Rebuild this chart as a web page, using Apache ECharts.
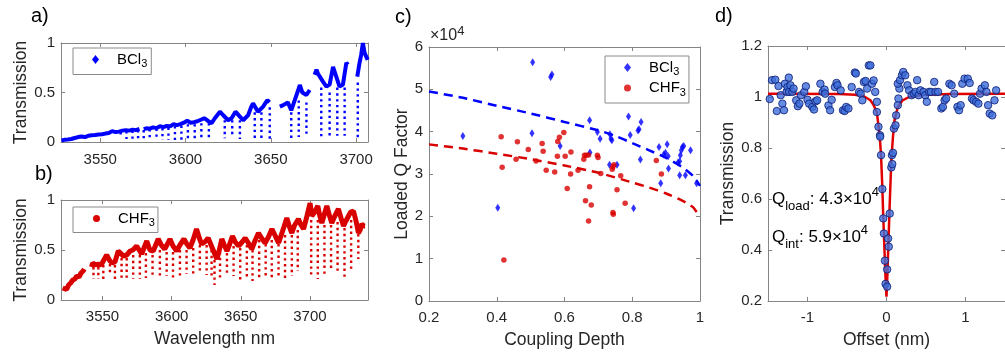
<!DOCTYPE html>
<html><head><meta charset="utf-8">
<script src="https://cdn.jsdelivr.net/npm/echarts@6/dist/echarts.min.js"></script>
<style>html,body{margin:0;padding:0;background:#fff}#c{width:1005px;height:356px}</style>
</head><body><div id="c"></div>
<script>
// ---------- DATA ----------
// a) BCl3 transmission band (wavelength nm, T); null = gap
const aBand = [[3527.3,0.015],[3529,0.022],[3531,0.025],[3533,0.03],[3535,0.04],[3537,0.05],[3539,0.055],[3541,0.05],[3543,0.063],[3545,0.068],[3547,0.07],[3549,0.075],[3551,0.078],[3553,0.085],[3555,0.09],[3557,0.11],[3559,0.1],[3561,0.105],[3563,0.115],[3565,0.12],[3567,0.115],[3569,0.125],[3571,0.12],[3573,0.132],[3574,null],[3575.5,0.13],[3577,0.138],[3579,0.135],[3581,0.148],[3583,0.14],[3585,0.16],[3587,0.15],[3589,0.162],[3591,0.158],[3593,0.18],[3595,0.17],[3597,0.18],[3599,0.195],[3601,0.215],[3603,0.195],[3605,0.2],[3607,0.21],[3609,0.225],[3611,0.24],[3613,0.215],[3615.3,0.19],[3617.2,0.24],[3620.2,0.306],[3622.1,0.27],[3625,0.22],[3627,0.24],[3629.3,0.306],[3631.9,0.256],[3633.8,0.22],[3636.7,0.27],[3638.6,0.357],[3639.6,0.39],[3642.5,0.306],[3645.5,0.357],[3648,0.424],[3649.2,0.40],[3651,null],[3655.3,0.357],[3657,0.37],[3660,0.40],[3662,0.32],[3664,0.42],[3666,0.52],[3667,0.576],[3668.5,0.5],[3670.9,0.475],[3672.8,0.525],[3674,null],[3675.7,0.68],[3676.8,0.73],[3677.7,0.69],[3680.6,0.61],[3682.6,0.56],[3684.5,0.58],[3686.5,0.76],[3688.4,0.66],[3690.3,0.56],[3692.3,0.58],[3694.3,0.8],[3695.2,0.78],[3698,null],[3700.7,0.66],[3702,0.795],[3703,0.88],[3704,1.0],[3705,0.9],[3706,0.92],[3706.8,0.83]];
// a) resonance dips: [wavelength, top, bottom]
const aDips = [[3562,0.10,0.04],[3565.4,0.11,0.03],[3568.9,0.115,0.03],[3572.2,0.12,0.03],[3575.5,0.12,0.025],[3579,0.13,0.025],[3583,0.135,0.02],[3586.5,0.14,0.02],[3590,0.145,0.02],[3593.8,0.16,0.02],[3597.6,0.165,0.02],[3601.4,0.18,0.02],[3605.4,0.18,0.02],[3609.3,0.19,0.03],[3613.7,0.19,0.03],[3623,0.22,0.037],[3627.4,0.22,0.05],[3631.9,0.22,0.03],[3640.6,0.3,0.03],[3644.5,0.3,0.025],[3649.4,0.35,0.02],[3662,0.3,0.03],[3666.4,0.42,0.05],[3670.9,0.4,0.07],[3679.6,0.55,0.05],[3684.5,0.5,0.05],[3689,0.55,0.063],[3693.3,0.55,0.063],[3701,0.6,0.02]];
// b) CHF3 transmission band
const bBand = [[3521.2,0.12],[3522.5,0.10],[3524,0.105],[3525.5,0.15],[3527,0.17],[3528.5,0.2],[3530,0.21],[3531.5,0.24],[3533,0.23],[3534.5,0.27],[3536,0.29],[3536.8,0.31],[3539,null],[3542,0.33],[3543,0.37],[3545,0.35],[3547,0.36],[3549,0.35],[3551,0.4],[3553,0.45],[3555.4,0.39],[3557,0.37],[3559,0.38],[3561.4,0.49],[3563,0.47],[3565,0.44],[3567.5,0.45],[3570,0.49],[3572,0.5],[3574.7,0.54],[3576.5,0.5],[3578.3,0.46],[3580,0.52],[3582,0.59],[3584.3,0.5],[3586.7,0.49],[3588.5,0.55],[3590.3,0.61],[3592.5,0.55],[3595,0.51],[3597,0.56],[3598.8,0.61],[3601,0.54],[3603.6,0.49],[3606,0.55],[3608.9,0.61],[3611,0.56],[3613.2,0.52],[3615.5,0.6],[3618,0.71],[3620,0.62],[3621.7,0.56],[3624,0.58],[3626.4,0.62],[3628.5,0.55],[3630,0.5],[3632.7,0.41],[3634.5,0.5],[3636.3,0.61],[3638,0.55],[3640,0.49],[3642,0.56],[3644,0.64],[3646,0.58],[3648.4,0.54],[3651,0.58],[3653.2,0.62],[3655.5,0.57],[3658,0.51],[3660.5,0.6],[3662.8,0.67],[3665,0.62],[3667.6,0.57],[3670,0.63],[3672.5,0.71],[3675,0.64],[3677.3,0.57],[3680,0.68],[3683.3,0.82],[3685,0.74],[3686.9,0.67],[3689,0.75],[3691.7,0.81],[3693.5,0.75],[3695.4,0.71],[3697.5,0.82],[3700.1,0.97],[3701.4,0.84],[3703.5,0.88],[3705.7,0.94],[3707,0.85],[3708.6,0.77],[3710.5,0.86],[3712.2,0.94],[3714,0.85],[3715.8,0.77],[3718,0.84],[3720.6,0.91],[3722.5,0.82],[3724.3,0.74],[3726,0.79],[3727.9,0.84],[3729.5,0.88],[3731.5,0.89],[3733.5,0.78],[3735.1,0.67],[3736.3,0.7],[3737.5,0.76],[3739,0.74],[3739.9,0.74]];
const bDips = [[3543.5,0.33,0.21],[3547,0.33,0.21],[3550.6,0.35,0.19],[3555.4,0.36,0.26],[3559,0.35,0.21],[3563.8,0.42,0.22],[3567.5,0.42,0.21],[3572.2,0.45,0.21],[3577,0.45,0.21],[3581.4,0.47,0.22],[3586.2,0.45,0.22],[3591.5,0.5,0.21],[3596.4,0.48,0.24],[3601,0.48,0.22],[3606,0.5,0.24],[3610.8,0.5,0.26],[3615.6,0.52,0.26],[3620.4,0.55,0.27],[3625.3,0.55,0.25],[3628.9,0.5,0.22],[3631,0.4,0.15],[3635,0.48,0.21],[3640,0.47,0.24],[3644.8,0.54,0.24],[3649.6,0.52,0.19],[3654.4,0.55,0.22],[3658.5,0.5,0.19],[3663.3,0.6,0.21],[3668,0.56,0.22],[3672.4,0.6,0.22],[3677.3,0.56,0.24],[3682,0.65,0.2],[3686.9,0.65,0.24],[3691.2,0.7,0.29],[3700.9,0.8,0.22],[3705.7,0.8,0.21],[3710.5,0.75,0.26],[3715.3,0.75,0.3],[3720,0.78,0.27],[3725,0.72,0.21],[3729.8,0.8,0.31],[3735,0.66,0.41]];
// c) Loaded Q vs coupling depth
const cBCl3 = [[0.300,39000],[0.403,22000],[0.504,39600],[0.506,56400],[0.559,52900],[0.563,53500],[0.587,36600],[0.674,42700],[0.675,35100],[0.697,39900],[0.705,38300],[0.734,39400],[0.737,38300],[0.740,38000],[0.733,32200],[0.755,32200],[0.789,43600],[0.794,39200],[0.804,21900],[0.817,40300],[0.820,40600],[0.826,42300],[0.824,33400],[0.879,36400],[0.884,27800],[0.893,34600],[0.898,35000],[0.903,37000],[0.906,34200],[0.907,31300],[0.935,32700],[0.940,33000],[0.940,29700],[0.942,34400],[0.945,35600],[0.948,36400],[0.952,36600],[0.957,29700],[0.972,35600],[0.990,27800]];
const cCHF3 = [[0.413,38800],[0.416,31600],[0.421,9700],[0.457,33500],[0.461,37600],[0.493,35800],[0.516,33100],[0.534,37200],[0.537,35400],[0.546,30900],[0.571,30500],[0.580,37700],[0.585,38700],[0.598,39800],[0.579,34200],[0.602,34200],[0.608,26600],[0.618,30000],[0.619,35200],[0.640,30900],[0.657,33500],[0.659,34400],[0.664,34400],[0.671,34500],[0.662,23700],[0.671,18900],[0.674,27000],[0.679,22700],[0.697,34400],[0.699,33900],[0.707,30100],[0.741,31100],[0.743,31700],[0.746,32200],[0.743,20900],[0.744,20500],[0.755,26300],[0.766,29600],[0.779,23100],[0.871,33200],[0.886,30000]];
const cFitBCl3 = [[0.2,49500],[0.3,48000],[0.4,46100],[0.5,44300],[0.6,42300],[0.7,40300],[0.75,39000],[0.8,37300],[0.85,35600],[0.9,33800],[0.95,31500],[0.98,29500],[1.0,27200]];
const cFitCHF3 = [[0.2,37000],[0.3,36000],[0.4,34800],[0.5,33500],[0.6,32000],[0.7,30300],[0.8,28000],[0.85,26800],[0.9,25400],[0.95,23600],[0.98,22100],[1.0,19800]];
// d) single resonance
const dPoints = [[-1.478,0.992],[-1.449,1.066],[-1.408,1.068],[-1.388,0.945],[-1.367,1.043],[-1.339,1.007],[-1.318,0.974],[-1.298,0.948],[-1.286,1.052],[-1.265,1.020],[-1.253,1.039],[-1.237,1.076],[-1.233,1.020],[-1.216,1.046],[-1.192,1.020],[-1.176,1.033],[-1.143,0.987],[-1.122,0.964],[-1.102,0.974],[-1.082,1.007],[-1.041,1.020],[-1.020,1.042],[-1.000,0.989],[-0.980,0.974],[-0.939,0.961],[-0.918,0.951],[-0.898,0.983],[-0.878,0.987],[-0.837,1.052],[-0.808,1.020],[-0.784,1.029],[-0.776,1.013],[-0.735,0.967],[-0.714,0.948],[-0.694,0.989],[-0.653,1.039],[-0.633,1.055],[-0.620,1.046],[-0.580,1.026],[-0.551,0.948],[-0.531,0.945],[-0.510,0.961],[-0.482,0.955],[-0.441,1.039],[-0.400,1.096],[-0.388,1.092],[-0.347,1.020],[-0.327,1.013],[-0.306,0.987],[-0.286,1.059],[-0.265,1.063],[-0.245,1.033],[-0.224,1.124],[-0.204,1.124],[-0.184,1.052],[-0.163,1.065],[-0.143,1.020],[-0.122,0.981],[-0.122,0.941],[-0.102,0.883],[-0.082,0.850],[-0.080,0.844],[-0.069,0.772],[-0.053,0.639],[-0.041,0.524],[-0.033,0.465],[-0.020,0.358],[-0.012,0.267],[0.008,0.256],[0.008,0.324],[0.029,0.413],[0.020,0.445],[0.041,0.543],[0.061,0.724],[0.073,0.737],[0.069,0.772],[0.082,0.781],[0.094,0.876],[0.114,0.889],[0.122,0.928],[0.143,0.968],[0.151,0.994],[0.163,1.033],[0.143,1.052],[0.171,1.066],[0.196,1.085],[0.212,1.098],[0.237,1.085],[0.265,1.046],[0.286,1.026],[0.318,1.007],[0.347,1.013],[0.367,1.020],[0.388,1.066],[0.408,1.007],[0.429,1.026],[0.469,1.020],[0.490,1.007],[0.510,0.981],[0.539,1.020],[0.563,1.020],[0.604,1.059],[0.620,1.020],[0.653,1.020],[0.694,0.955],[0.714,0.961],[0.735,0.987],[0.755,0.994],[0.796,1.052],[0.824,1.046],[0.857,1.013],[0.898,0.961],[0.918,0.948],[0.939,0.968],[0.959,1.052],[0.988,1.072],[1.029,1.072],[1.053,1.055],[1.082,0.994],[1.102,0.987],[1.135,0.981],[1.163,0.974],[1.184,1.013],[1.204,1.033],[1.245,1.046],[1.265,1.020],[1.286,0.968],[1.306,0.935],[1.339,0.928],[1.367,0.987],[1.388,1.026]];
const dFit = [[-1.5,1.013],[-0.6,1.012],[-0.4,1.009],[-0.286,1.003],[-0.204,0.987],[-0.163,0.968],[-0.122,0.94],[-0.102,0.889],[-0.082,0.83],[-0.069,0.77],[-0.053,0.648],[-0.041,0.53],[-0.024,0.387],[-0.008,0.256],[0,0.217],[0.012,0.308],[0.024,0.426],[0.041,0.583],[0.061,0.752],[0.082,0.844],[0.102,0.909],[0.143,0.961],[0.204,0.987],[0.286,1.0],[0.45,1.008],[0.8,1.012],[1.5,1.013]];
// tick labels
const wlTicks = [3550, 3600, 3650, 3700];
const offTicks = [-1, 0, 1];

// ---------- STYLE / OPTION ----------
const F = "'Liberation Sans', Arial, Helvetica, sans-serif";
const AX = '#858585', TX = '#262626', BLUE = '#0000ff', RED = '#d90000';
const plain = v => String(v);
function xAxes(g, min, max, o) {
  const base = {type:'value', gridIndex:g, min, max, interval:o.interval,
    axisLine:{show:true,onZero:false,lineStyle:{color:AX,width:1}},
    axisTick:{show:true,inside:true,length:4,lineStyle:{color:AX},customValues:o.ticks},
    splitLine:{show:false}};
  return [
    Object.assign({}, base, {position:'bottom',
      axisLabel:{show:true,color:TX,fontSize:15,fontFamily:F,margin:o.margin||9,customValues:o.ticks,formatter:o.fmt||plain},
      name:o.name||'', nameLocation:'middle', nameGap:30, nameTextStyle:{fontSize:17.5,color:TX,fontFamily:F}}),
    Object.assign({}, base, {position:'top', axisLabel:{show:false,customValues:o.ticks}})
  ];
}
function yAxes(g, min, max, o) {
  const base = {type:'value', gridIndex:g, min, max, interval:o.interval,
    axisLine:{show:true,onZero:false,lineStyle:{color:AX,width:1}},
    axisTick:{show:true,inside:true,length:4,lineStyle:{color:AX}},
    splitLine:{show:false}};
  return [
    Object.assign({}, base, {position:'left',
      axisLabel:{show:true,color:TX,fontSize:15,fontFamily:F,margin:6,formatter:o.fmt||plain},
      name:o.name, nameLocation:'middle', nameGap:o.gap, nameTextStyle:{fontSize:17.5,color:TX,fontFamily:F}}),
    Object.assign({}, base, {position:'right', axisLabel:{show:false}})
  ];
}
function dipSeries(data, xi, yi, color) {
  return {type:'custom', xAxisIndex:xi, yAxisIndex:yi, data, silent:true, z:2,
    encode:{x:0, y:[1,2]},
    renderItem(params, api) {
      const p1 = api.coord([api.value(0), api.value(1)]);
      const p2 = api.coord([api.value(0), api.value(2)]);
      return {type:'line', shape:{x1:p1[0],y1:p1[1],x2:p2[0],y2:p2[1]},
        style:{stroke:color, lineWidth:2.4, lineDash:[2.4,3.4]}};
    }};
}
const legRich = {
  g:{width:13},
  t:{fontSize:15, fontFamily:F, color:'#000', lineHeight:20, fontWeight:'normal'},
  s:{fontSize:11, fontFamily:F, color:'#000', verticalAlign:'bottom', fontWeight:'normal'}
};
const legFmt = n => '{g| }{t|' + n.slice(1, -1) + '}{s|3}';
function legend(items, left, top, pad) {
  return {data:items, left, top, orient:'vertical', padding:pad, itemWidth:7, itemHeight:9, itemGap:3,
    borderColor:'#8a8a8a', borderWidth:1, borderRadius:0, backgroundColor:'#fff', selectedMode:false,
    itemStyle:{borderWidth:0}, formatter:legFmt, textStyle:{rich:legRich}};
}
const titleTS = {fontSize:20, fontWeight:'normal', color:'#000', fontFamily:F};
const qRich = {
  q:{fontSize:17, fontFamily:F, color:'#000', lineHeight:27, fontWeight:'normal'},
  s:{fontSize:13, fontFamily:F, color:'#000', verticalAlign:'bottom', fontWeight:'normal'},
  p:{fontSize:13, fontFamily:F, color:'#000', verticalAlign:'top', fontWeight:'normal'}
};

const xA = [].concat(
  xAxes(0, 3527, 3707, {ticks:wlTicks, margin:10}),
  xAxes(1, 3520, 3742, {ticks:wlTicks, name:'Wavelength nm'}),
  xAxes(2, 0.2, 1, {interval:0.2, name:'Coupling Depth'}),
  xAxes(3, -1.5, 1.5, {ticks:offTicks, name:'Offset (nm)'})
);
const yA = [].concat(
  yAxes(0, 0, 1, {interval:0.5, name:'Transmission', gap:30}),
  yAxes(1, 0, 1, {interval:0.5, name:'Transmission', gap:30}),
  yAxes(2, 0, 60000, {interval:10000, name:'Loaded Q Factor', gap:14, fmt:v => String(v/10000)}),
  yAxes(3, 0.2, 1.2, {interval:0.2, name:'Transmission', gap:31})
);

const option = {
  animation:false,
  backgroundColor:'#fff',
  textStyle:{fontFamily:F},
  grid:[
    {left:61, top:43, width:307, height:99},
    {left:61, top:200, width:307, height:100},
    {left:429, top:47, width:271, height:254},
    {left:768, top:46, width:244, height:255}
  ],
  xAxis:xA, yAxis:yA,
  title:[
    {text:'a)', left:31, top:6, padding:0, textStyle:titleTS},
    {text:'b)', left:35, top:164, padding:0, textStyle:titleTS},
    {text:'c)', left:395, top:7, padding:0, textStyle:titleTS},
    {text:'d)', left:715, top:6, padding:0, textStyle:titleTS},
    {text:'{m|×10}{p|4}', left:430, top:25, padding:0, textStyle:{fontWeight:'normal', rich:{
      m:{fontSize:16, fontFamily:F, color:TX, lineHeight:21, fontWeight:'normal'},
      p:{fontSize:13, fontFamily:F, color:TX, verticalAlign:'top', fontWeight:'normal'}}}},
    {text:'{q|Q}{s|load}{q|: 4.3×10}{p|4}', left:772, top:186, padding:0, textStyle:{fontWeight:'normal', rich:qRich}},
    {text:'{q|Q}{s|int}{q|: 5.9×10}{p|4}', left:772, top:224, padding:0, textStyle:{fontWeight:'normal', rich:qRich}}
  ],
  legend:[
    legend([{name:'aBCl3', icon:'diamond'}], 73, 48, [4,4,5,19]),
    legend([{name:'bCHF3', icon:'circle'}], 73, 207, [4,3,4,20]),
    legend([{name:'cBCl3', icon:'diamond'}, {name:'cCHF3', icon:'circle'}], 605, 56, [4,3,5,19])
  ],
  series:[
    {name:'aBCl3', type:'line', xAxisIndex:0, yAxisIndex:0, data:aBand, showSymbol:false, symbol:'diamond',
      connectNulls:false, silent:true, z:3, lineStyle:{color:BLUE, width:4}, itemStyle:{color:BLUE}},
    dipSeries(aDips, 0, 0, BLUE),
    {name:'bCHF3', type:'line', xAxisIndex:2, yAxisIndex:2, data:bBand, showSymbol:false, symbol:'circle',
      connectNulls:false, silent:true, z:3, lineStyle:{color:RED, width:5}, itemStyle:{color:RED}},
    dipSeries(bDips, 2, 2, RED),
    {name:'fitB', type:'line', xAxisIndex:4, yAxisIndex:4, data:cFitBCl3, showSymbol:false, smooth:0.2, silent:true,
      lineStyle:{color:BLUE, width:2.5, type:[9,6]}, z:2},
    {name:'fitC', type:'line', xAxisIndex:4, yAxisIndex:4, data:cFitCHF3, showSymbol:false, smooth:0.2, silent:true,
      lineStyle:{color:RED, width:2.5, type:[9,6]}, z:2},
    {name:'cBCl3', type:'scatter', xAxisIndex:4, yAxisIndex:4, data:cBCl3, symbol:'diamond', symbolSize:[5,8],
      itemStyle:{color:BLUE}, z:3},
    {name:'cCHF3', type:'scatter', xAxisIndex:4, yAxisIndex:4, data:cCHF3, symbol:'circle', symbolSize:5.5,
      itemStyle:{color:RED}, z:3},
    {name:'dFit', type:'line', xAxisIndex:6, yAxisIndex:6, data:dFit, showSymbol:false, silent:true,
      lineStyle:{color:'#e00000', width:2.5}, z:2},
    {name:'dPts', type:'scatter', xAxisIndex:6, yAxisIndex:6, data:dPoints, symbol:'circle', symbolSize:7.5,
      itemStyle:{color:'#3e6fdb', borderColor:'#0b1c74', borderWidth:1}, z:3}
  ]
};
const chart = echarts.init(document.getElementById('c'), null, {renderer:'canvas'});
chart.setOption(option);
</script>
</body></html>
